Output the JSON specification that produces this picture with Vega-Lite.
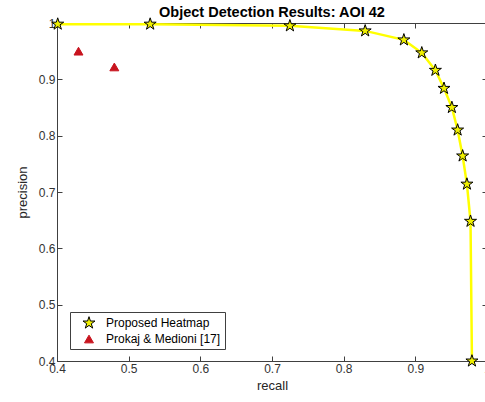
{
  "$schema": "https://vega.github.io/schema/vega-lite/v6.json",
  "width": 430,
  "height": 338,
  "autosize": "none",
  "padding": {"left": 57, "top": 23, "right": 0, "bottom": 41},
  "background": "white",
  "config": {
    "font": "Liberation Sans",
    "view": {"stroke": "#404040", "strokeWidth": 1},
    "axis": {
      "grid": false,
      "labelFont": "Liberation Sans",
      "labelFontSize": 12,
      "labelColor": "#333333",
      "labelFlush": false,
      "labelOverlap": false,
      "tickColor": "#404040",
      "domainColor": "#404040",
      "titleFont": "Liberation Sans",
      "titleFontSize": 13,
      "titleFontWeight": "normal",
      "titleColor": "#262626",
      "tickSize": -5
    }
  },
  "title": {
    "text": "Object Detection Results: AOI 42",
    "font": "Liberation Sans",
    "fontSize": 14.5,
    "fontWeight": "bold",
    "color": "#000000",
    "offset": -5,
    "anchor": "middle"
  },
  "data": {
    "values": [
      {"series": "Proposed Heatmap", "recall": 0.401, "precision": 0.998},
      {"series": "Proposed Heatmap", "recall": 0.53, "precision": 0.998},
      {"series": "Proposed Heatmap", "recall": 0.725, "precision": 0.995},
      {"series": "Proposed Heatmap", "recall": 0.83, "precision": 0.986},
      {"series": "Proposed Heatmap", "recall": 0.884, "precision": 0.97},
      {"series": "Proposed Heatmap", "recall": 0.909, "precision": 0.947},
      {"series": "Proposed Heatmap", "recall": 0.928, "precision": 0.916},
      {"series": "Proposed Heatmap", "recall": 0.94, "precision": 0.884},
      {"series": "Proposed Heatmap", "recall": 0.951, "precision": 0.85},
      {"series": "Proposed Heatmap", "recall": 0.959, "precision": 0.81},
      {"series": "Proposed Heatmap", "recall": 0.966, "precision": 0.764},
      {"series": "Proposed Heatmap", "recall": 0.972, "precision": 0.714},
      {"series": "Proposed Heatmap", "recall": 0.977, "precision": 0.648},
      {"series": "Proposed Heatmap", "recall": 0.979, "precision": 0.4},
      {"series": "Prokaj & Medioni [17]", "recall": 0.43, "precision": 0.95},
      {"series": "Prokaj & Medioni [17]", "recall": 0.48, "precision": 0.922}
    ]
  },
  "resolve": {"axis": {"x": "independent", "y": "independent"}},
  "layer": [
    {
      "transform": [{"filter": "datum.series === 'Proposed Heatmap'"}],
      "mark": {"type": "line", "color": "#ffff00", "strokeWidth": 2.5},
      "encoding": {
        "x": {
          "field": "recall", "type": "quantitative",
          "scale": {"domain": [0.4, 1], "nice": false, "zero": false},
          "axis": {"values": [0.4, 0.5, 0.6, 0.7, 0.8, 0.9, 0.99999], "format": ".1~f", "title": "recall", "labelPadding": 7, "titlePadding": 5}
        },
        "y": {
          "field": "precision", "type": "quantitative",
          "scale": {"domain": [0.4, 1], "nice": false, "zero": false},
          "axis": {"values": [0.4, 0.5, 0.6, 0.7, 0.8, 0.9, 0.99999], "format": ".1~f", "title": "precision", "labelPadding": 7, "titlePadding": 9}
        }
      }
    },
    {
      "mark": {"type": "point", "filled": true, "strokeWidth": 1, "opacity": 1},
      "encoding": {
        "x": {
          "field": "recall", "type": "quantitative",
          "axis": {"orient": "top", "values": [0.4, 0.5, 0.6, 0.7, 0.8, 0.9, 0.99999], "labels": false, "title": null, "domain": false}
        },
        "y": {
          "field": "precision", "type": "quantitative",
          "axis": {"orient": "right", "values": [0.4, 0.5, 0.6, 0.7, 0.8, 0.9, 0.99999], "labels": false, "title": null, "domain": false}
        },
        "shape": {
          "field": "series", "type": "nominal",
          "scale": {
            "domain": ["Proposed Heatmap", "Prokaj & Medioni [17]"],
            "range": ["M0,-1L0.225,-0.309L0.951,-0.309L0.363,0.118L0.588,0.809L0,0.382L-0.588,0.809L-0.363,0.118L-0.951,-0.309L-0.225,-0.309Z", "triangle-up"]
          },
          "legend": {
            "title": null,
            "orient": "none",
            "legendX": 13,
            "legendY": 289,
            "fillColor": "white",
            "strokeColor": "#404040",
            "padding": 4,
            "symbolOffset": 8,
            "labelOffset": 10,
            "labelFont": "Liberation Sans",
            "labelFontSize": 12,
            "labelColor": "#000000",
            "symbolStrokeWidth": 1,
            "rowPadding": 2
          }
        },
        "fill": {
          "field": "series", "type": "nominal",
          "scale": {"domain": ["Proposed Heatmap", "Prokaj & Medioni [17]"], "range": ["#f0f000", "#c8141e"]}
        },
        "stroke": {
          "field": "series", "type": "nominal",
          "scale": {"domain": ["Proposed Heatmap", "Prokaj & Medioni [17]"], "range": ["#000000", "#c8141e"]}
        },
        "size": {
          "field": "series", "type": "nominal",
          "scale": {"domain": ["Proposed Heatmap", "Prokaj & Medioni [17]"], "range": [160, 80]}
        }
      }
    }
  ]
}
